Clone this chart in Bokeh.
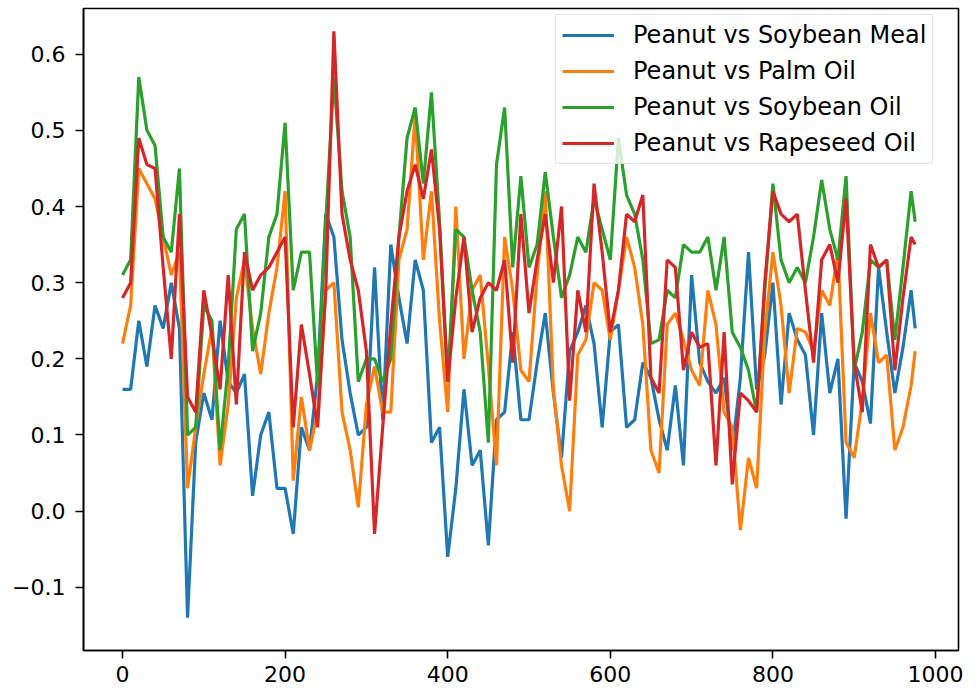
from bokeh.plotting import figure
from bokeh.models import Range1d, FixedTicker, Legend, LegendItem
from bokeh.embed import file_html
from bokeh.resources import INLINE

# ---- data ----
x = list(range(0, 980, 10)) + [975]

soybean_meal = [
    0.16, 0.16, 0.25, 0.19, 0.27, 0.24, 0.30, 0.24, -0.14, 0.09,
    0.155, 0.12, 0.25, 0.17, 0.155, 0.18, 0.02, 0.10, 0.13, 0.03,
    0.03, -0.03, 0.11, 0.08, 0.18, 0.39, 0.36, 0.225, 0.155, 0.10,
    0.11, 0.32, 0.12, 0.35, 0.28, 0.22, 0.33, 0.29, 0.09, 0.11,
    -0.06, 0.03, 0.16, 0.06, 0.08, -0.045, 0.12, 0.13, 0.235, 0.12,
    0.12, 0.195, 0.26, 0.155, 0.07, 0.21, 0.235, 0.27, 0.22, 0.11,
    0.235, 0.245, 0.11, 0.12, 0.195, 0.175, 0.12, 0.08, 0.165, 0.06,
    0.31, 0.195, 0.17, 0.155, 0.175, 0.08, 0.175, 0.34, 0.16, 0.205,
    0.30, 0.14, 0.26, 0.225, 0.205, 0.10, 0.26, 0.155, 0.20, -0.01,
    0.195, 0.17, 0.115, 0.32, 0.235, 0.155, 0.215, 0.29, 0.24,
]
palm_oil = [
    0.22, 0.27, 0.45, 0.43, 0.41, 0.36, 0.31, 0.34, 0.03, 0.11,
    0.18, 0.24, 0.06, 0.14, 0.28, 0.33, 0.24, 0.18, 0.26, 0.32,
    0.42, 0.04, 0.15, 0.08, 0.13, 0.29, 0.30, 0.13, 0.08, 0.005,
    0.14, 0.19, 0.13, 0.13, 0.33, 0.37, 0.52, 0.33, 0.42, 0.25,
    0.13, 0.40, 0.20, 0.29, 0.31, 0.19, 0.06, 0.36, 0.29, 0.185,
    0.17, 0.31, 0.42, 0.16, 0.06, 0.0, 0.205, 0.225, 0.30, 0.29,
    0.225, 0.29, 0.36, 0.32, 0.245, 0.08, 0.05, 0.245, 0.26, 0.225,
    0.185, 0.165, 0.29, 0.245, 0.13, 0.11, -0.025, 0.07, 0.03, 0.235,
    0.34, 0.27, 0.155, 0.24, 0.235, 0.21, 0.29, 0.27, 0.34, 0.09,
    0.07, 0.145, 0.26, 0.195, 0.205, 0.08, 0.11, 0.165, 0.21,
]
soybean_oil = [
    0.31, 0.33, 0.57, 0.50, 0.48, 0.36, 0.34, 0.45, 0.10, 0.11,
    0.27, 0.25, 0.08, 0.19, 0.37, 0.39, 0.21, 0.26, 0.36, 0.39,
    0.51, 0.29, 0.34, 0.34, 0.165, 0.38, 0.57, 0.42, 0.36, 0.17,
    0.20, 0.20, 0.17, 0.20, 0.36, 0.49, 0.53, 0.43, 0.55, 0.38,
    0.17, 0.37, 0.36, 0.29, 0.235, 0.09, 0.455, 0.53, 0.32, 0.44,
    0.32, 0.35, 0.445, 0.36, 0.28, 0.31, 0.36, 0.34, 0.41, 0.37,
    0.33, 0.49, 0.415, 0.39, 0.33, 0.22, 0.225, 0.29, 0.28, 0.35,
    0.34, 0.34, 0.36, 0.29, 0.36, 0.235, 0.215, 0.185, 0.13, 0.29,
    0.43, 0.33, 0.30, 0.32, 0.30, 0.36, 0.435, 0.37, 0.33, 0.44,
    0.185, 0.235, 0.33, 0.32, 0.33, 0.225, 0.32, 0.42, 0.38,
]
rapeseed_oil = [
    0.28, 0.30, 0.49, 0.455, 0.45, 0.32, 0.20, 0.39, 0.15, 0.13,
    0.29, 0.23, 0.16, 0.31, 0.14, 0.34, 0.29, 0.31, 0.32, 0.34,
    0.36, 0.11, 0.245, 0.18, 0.11, 0.29, 0.63, 0.39, 0.33, 0.29,
    0.21, -0.03, 0.11, 0.245, 0.36, 0.42, 0.455, 0.41, 0.475, 0.37,
    0.17, 0.28, 0.36, 0.235, 0.28, 0.30, 0.29, 0.33, 0.195, 0.39,
    0.26, 0.33, 0.39, 0.30, 0.40, 0.145, 0.29, 0.235, 0.43, 0.34,
    0.235, 0.29, 0.39, 0.38, 0.415, 0.175, 0.155, 0.33, 0.32, 0.185,
    0.235, 0.215, 0.22, 0.06, 0.235, 0.035, 0.155, 0.145, 0.13, 0.30,
    0.42, 0.39, 0.38, 0.39, 0.29, 0.195, 0.33, 0.35, 0.30, 0.41,
    0.195, 0.13, 0.35, 0.32, 0.33, 0.185, 0.28, 0.36, 0.35,
]

labels = ["Peanut vs Soybean Meal", "Peanut vs Palm Oil",
          "Peanut vs Soybean Oil", "Peanut vs Rapeseed Oil"]
colors = ["#1f77b4", "#ff7f0e", "#2ca02c", "#d62728"]
series = [soybean_meal, palm_oil, soybean_oil, rapeseed_oil]

x_ticks = [0, 200, 400, 600, 800, 1000]
y_ticks = [-0.1, 0.0, 0.1, 0.2, 0.3, 0.4, 0.5, 0.6]
y_tick_labels = ["\u22120.1", "0.0", "0.1", "0.2", "0.3", "0.4", "0.5", "0.6"]

FONT = "DejaVu Sans"

p = figure(frame_width=875, frame_height=642,
           min_border_left=83, min_border_top=8, min_border_right=13, min_border_bottom=44,
           x_range=Range1d(-48, 1028.3), y_range=Range1d(-0.183, 0.660),
           output_backend="svg", toolbar_location=None)

items = []
for lab, col, ys in zip(labels, colors, series):
    r = p.line(x, ys, line_color=col, line_width=3.2)
    items.append(LegendItem(label=lab, renderers=[r]))

p.xgrid.visible = False
p.ygrid.visible = False
p.outline_line_color = "black"
p.outline_line_width = 1.6
p.outline_line_alpha = 1.0

p.xaxis.ticker = FixedTicker(ticks=x_ticks)
p.yaxis.ticker = FixedTicker(ticks=y_ticks)
p.yaxis.major_label_overrides = {v: s for v, s in zip(y_ticks, y_tick_labels)}

for ax in (p.xaxis, p.yaxis):
    ax.axis_line_color = "black"
    ax.axis_line_width = 1.6
    ax.major_tick_line_color = "black"
    ax.major_tick_line_width = 1.6
    ax.major_tick_out = 8
    ax.major_tick_in = 0
    ax.minor_tick_line_color = None
    ax.major_label_text_font = FONT
    ax.major_label_text_font_size = "22px"
    ax.major_label_text_color = "black"
p.xaxis.major_label_standoff = 7
p.yaxis.major_label_standoff = 10

legend = Legend(items=items, location=(472, 486),
                label_text_font=FONT, label_text_font_size="24px",
                label_text_color="black",
                glyph_width=52, glyph_height=24, label_height=24,
                spacing=8, padding=6, label_standoff=19,
                border_line_color="#cccccc", border_line_width=1.5,
                background_fill_color="white", background_fill_alpha=0.8)
p.add_layout(legend)

open("out.html", "w").write(file_html(p, INLINE))
